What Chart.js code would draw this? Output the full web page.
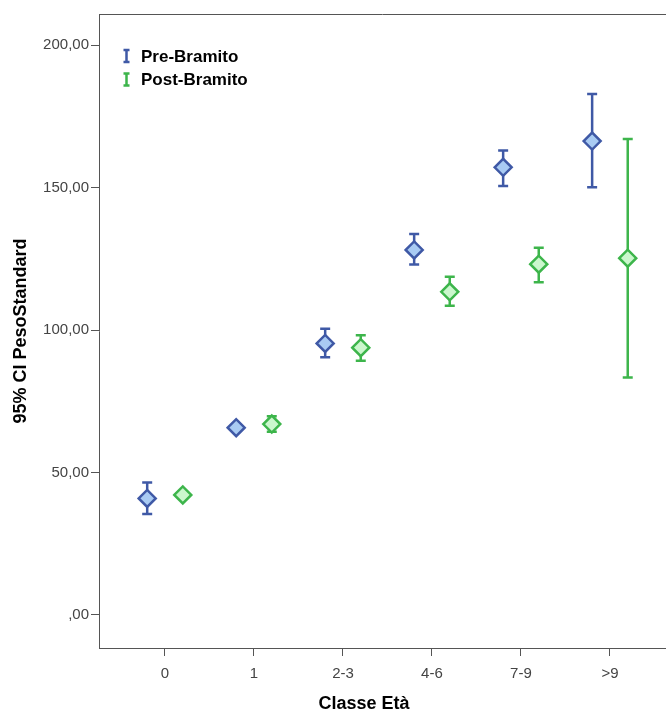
<!DOCTYPE html>
<html>
<head>
<meta charset="utf-8">
<title>PesoStandard per classe di età</title>
<script src="https://cdn.jsdelivr.net/npm/chart.js@4/dist/chart.umd.min.js"></script>
<style>
  body { margin: 0; background: #fff; }
  canvas { display: block; }
</style>
</head>
<body>
<canvas id="chart" width="666" height="713"></canvas>
<script>
// Age classes on the x axis
const categories = ['0', '1', '2-3', '4-6', '7-9', '>9'];

// Pre-Bramito: mean and 95% CI bounds
const preMean = [40.9, 65.7, 95.3, 128.1, 157.1, 166.3];
const preLow  = [35.4, 65.2, 90.4, 123.0, 150.5, 150.1];
const preHigh = [46.5, 66.2, 100.4, 133.7, 163.0, 182.8];

// Post-Bramito: mean and 95% CI bounds
const postMean = [42.1, 67.0, 93.8, 113.4, 123.1, 125.2];
const postLow  = [41.6, 64.3, 89.2, 108.5, 116.8, 83.3];
const postHigh = [42.6, 69.7, 98.2, 118.7, 128.9, 167.0];

// Y axis ticks (Italian decimal format)
const yTicks = [0, 50, 100, 150, 200];
const yTickLabels = [',00', '50,00', '100,00', '150,00', '200,00'];

const FONT = '"Liberation Sans", Arial, sans-serif';
const PRE_LINE = '#3f59a6';
const PRE_FILL = '#a9cbf3';
const POST_LINE = '#3db54b';
const POST_FILL = '#cbf7cd';

// pre/post markers sit either side of the class position
const shift = 0.2;

function points(means, dx) {
    return means.map((m, i) => ({ x: i + dx, y: m }));
}

// vertical CI bars with caps, drawn under the diamonds
const errorBars = {
    id: 'errorBars',
    beforeDatasetsDraw(chart) {
        const { ctx, scales: { y } } = chart;
        chart.data.datasets.forEach((ds, di) => {
            const meta = chart.getDatasetMeta(di);
            ctx.save();
            ctx.strokeStyle = ds.borderColor;
            ctx.lineWidth = 2.5;
            meta.data.forEach((pt, i) => {
                const top = y.getPixelForValue(ds.ciHigh[i]);
                const bot = y.getPixelForValue(ds.ciLow[i]);
                ctx.beginPath();
                ctx.moveTo(pt.x, top);
                ctx.lineTo(pt.x, bot);
                ctx.moveTo(pt.x - 5, top);
                ctx.lineTo(pt.x + 5, top);
                ctx.moveTo(pt.x - 5, bot);
                ctx.lineTo(pt.x + 5, bot);
                ctx.stroke();
            });
            ctx.restore();
        });
    }
};

// top frame line, legend box and x title
const decorations = {
    id: 'decorations',
    afterDraw(chart) {
        const { ctx, chartArea } = chart;
        ctx.save();
        ctx.strokeStyle = '#555';
        ctx.lineWidth = 1;
        ctx.beginPath();
        ctx.moveTo(chartArea.left, chartArea.top + 0.5);
        ctx.lineTo(chartArea.right, chartArea.top + 0.5);
        ctx.stroke();

        // legend
        chart.data.datasets.forEach((ds, i) => {
            const cy = 56 + i * 23.5;
            const gx = 126.5;
            ctx.strokeStyle = ds.borderColor;
            ctx.lineWidth = 2.5;
            ctx.beginPath();
            ctx.moveTo(gx, cy - 6);
            ctx.lineTo(gx, cy + 6);
            ctx.moveTo(gx - 3, cy - 6);
            ctx.lineTo(gx + 3, cy - 6);
            ctx.moveTo(gx - 3, cy + 6);
            ctx.lineTo(gx + 3, cy + 6);
            ctx.stroke();

            ctx.fillStyle = '#000';
            ctx.font = 'bold 17px ' + FONT;
            ctx.textAlign = 'left';
            ctx.textBaseline = 'middle';
            ctx.fillText(ds.label, 141, cy + 1);
        });

        // x axis title
        ctx.fillStyle = '#000';
        ctx.font = 'bold 18px ' + FONT;
        ctx.textAlign = 'center';
        ctx.textBaseline = 'middle';
        ctx.fillText('Classe Età', 364, 704);
        ctx.restore();
    }
};

new Chart(document.getElementById('chart'), {
    type: 'scatter',
    data: {
        datasets: [
            {
                label: 'Pre-Bramito',
                data: points(preMean, -shift),
                ciLow: preLow,
                ciHigh: preHigh,
                borderColor: PRE_LINE,
                backgroundColor: PRE_FILL,
                pointStyle: 'rectRot',
                pointRadius: 8.5,
                pointHoverRadius: 8.5,
                borderWidth: 2.5,
                clip: false
            },
            {
                label: 'Post-Bramito',
                data: points(postMean, shift),
                ciLow: postLow,
                ciHigh: postHigh,
                borderColor: POST_LINE,
                backgroundColor: POST_FILL,
                pointStyle: 'rectRot',
                pointRadius: 8.5,
                pointHoverRadius: 8.5,
                borderWidth: 2.5,
                clip: false
            }
        ]
    },
    options: {
        responsive: false,
        animation: false,
        devicePixelRatio: 1,
        layout: {
            autoPadding: false,
            padding: { top: 14, left: 0, right: 0, bottom: 0 }
        },
        plugins: {
            legend: { display: false },
            tooltip: { enabled: false }
        },
        scales: {
            x: {
                type: 'linear',
                min: -0.7416,
                max: 5.63,
                afterBuildTicks: (scale) => {
                    scale.ticks = categories.map((c, i) => ({ value: i }));
                },
                afterFit: (scale) => {
                    scale.height = 65;
                    scale.paddingLeft = 0;
                    scale.paddingRight = 0;
                },
                ticks: {
                    callback: (v) => categories[v],
                    color: '#444',
                    font: { family: FONT, size: 15 },
                    padding: 9,
                    maxRotation: 0
                },
                grid: {
                    drawOnChartArea: false,
                    tickLength: 8,
                    tickColor: '#555'
                },
                border: { color: '#555', width: 1 }
            },
            y: {
                min: -11.6,
                max: 210.9,
                afterBuildTicks: (scale) => {
                    scale.ticks = yTicks.map(v => ({ value: v }));
                },
                afterFit: (scale) => {
                    scale.width = 99;
                    scale.paddingTop = 0;
                    scale.paddingBottom = 0;
                },
                ticks: {
                    callback: (v) => yTickLabels[yTicks.indexOf(v)],
                    color: '#444',
                    font: { family: FONT, size: 15 },
                    padding: 2
                },
                grid: {
                    drawOnChartArea: false,
                    tickLength: 8,
                    tickColor: '#555'
                },
                border: { color: '#555', width: 1 },
                title: {
                    display: true,
                    text: '95% CI PesoStandard',
                    color: '#000',
                    font: { family: FONT, size: 18, weight: 'bold' },
                    padding: { top: 10, bottom: 0 }
                }
            }
        }
    },
    plugins: [errorBars, decorations]
});
</script>
</body>
</html>
